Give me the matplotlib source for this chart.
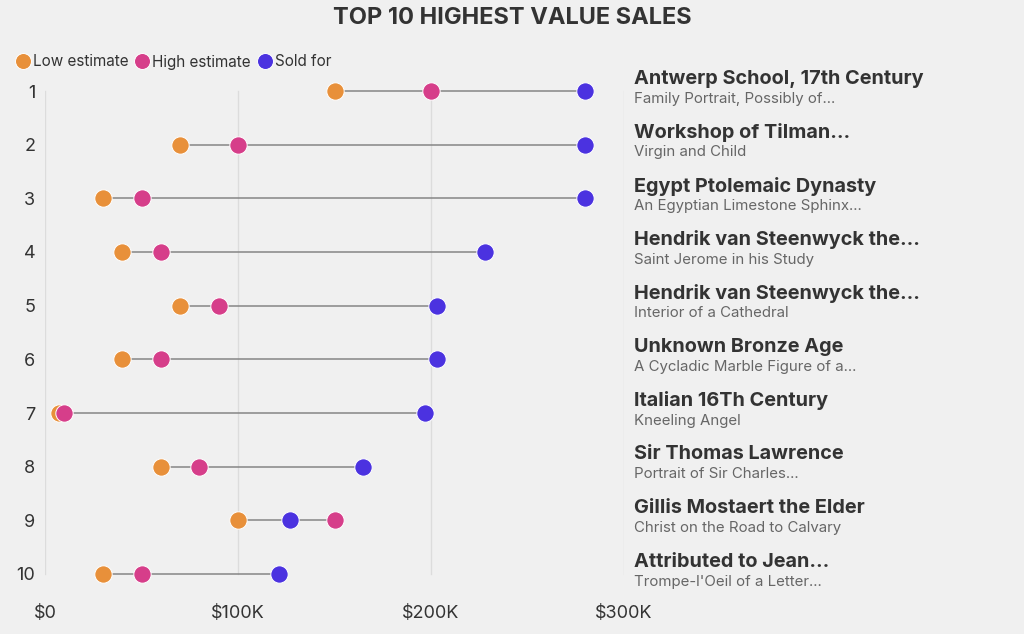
import matplotlib
matplotlib.use("Agg")
import matplotlib.pyplot as plt
from matplotlib.lines import Line2D

ranks = [1, 2, 3, 4, 5, 6, 7, 8, 9, 10]
artists = ["Antwerp School, 17th Century", "Workshop of Tilman\u2026", "Egypt Ptolemaic Dynasty",
           "Hendrik van Steenwyck the\u2026", "Hendrik van Steenwyck the\u2026", "Unknown Bronze Age",
           "Italian 16Th Century", "Sir Thomas Lawrence", "Gillis Mostaert the Elder",
           "Attributed to Jean\u2026"]
works = ["Family Portrait, Possibly of...", "Virgin and Child", "An Egyptian Limestone Sphinx...",
         "Saint Jerome in his Study", "Interior of a Cathedral", "A Cycladic Marble Figure of a...",
         "Kneeling Angel", "Portrait of Sir Charles...", "Christ on the Road to Calvary",
         "Trompe-l'Oeil of a Letter..."]
low_est = [150, 70, 30, 40, 70, 40, 7, 60, 100, 30]       # $K
high_est = [200, 100, 50, 60, 90, 60, 10, 80, 150, 50]    # $K
sold_for = [280, 280, 280, 228, 203, 203, 197, 165, 127, 121]  # $K
xticks = [0, 100, 200, 300]
xtick_labels = ["$0", "$100K", "$200K", "$300K"]

C_LOW = "#E8903A"
C_HIGH = "#D63E8A"
C_SOLD = "#4B32E0"
BG = "#F0F0F0"
TXT = "#333333"

plt.rcParams['font.family'] = ['Inter', 'DejaVu Sans']

fig = plt.figure(figsize=(10.24, 6.34), dpi=100, facecolor=BG)
W, H = 1024, 634
step = (574 - 91) / 9
top_px = 91 - step / 2
bot_px = 574 + step / 2
ax = fig.add_axes([45 / W, 1 - bot_px / H, (624 - 45) / W, (bot_px - top_px) / H])
ax.set_facecolor(BG)
ax.set_xlim(0, 300)
ax.set_ylim(10.5, 0.5)

for xv in xticks:
    ax.plot([xv, xv], [1, 10], color="#DCDCDC", lw=1, zorder=0)

for i, r in enumerate(ranks):
    lo = min(low_est[i], high_est[i], sold_for[i])
    hi = max(low_est[i], high_est[i], sold_for[i])
    ax.plot([lo, hi], [r, r], color="#858585", lw=1.1, zorder=1)

ms = 12.5
ax.plot(low_est, ranks, 'o', ls='none', color=C_LOW, ms=ms, mec='white', mew=0.7, zorder=3)
ax.plot(high_est, ranks, 'o', ls='none', color=C_HIGH, ms=ms, mec='white', mew=0.7, zorder=4)
ax.plot(sold_for, ranks, 'o', ls='none', color=C_SOLD, ms=ms, mec='white', mew=0.7, zorder=5)

ax.set_xticks(xticks)
ax.set_xticklabels(xtick_labels, fontsize=13, color=TXT)
ax.set_yticks(ranks)
ax.set_yticklabels([str(r) for r in ranks], fontsize=13, color=TXT)
ax.tick_params(length=0)
ax.tick_params(axis='x', pad=3)
ax.tick_params(axis='y', pad=7)
for s in ax.spines.values():
    s.set_visible(False)

for i, r in enumerate(ranks):
    ax.annotate(artists[i], xy=(1.0, r), xycoords=('axes fraction', 'data'),
                xytext=(7, 8.8), textcoords='offset points', fontsize=14.3, fontweight='bold',
                color=TXT, va='center', ha='left', annotation_clip=False)
    ax.annotate(works[i], xy=(1.0, r), xycoords=('axes fraction', 'data'),
                xytext=(7, -5.5), textcoords='offset points', fontsize=10.8, color="#666666",
                va='center', ha='left', annotation_clip=False)

fig.text(0.5, 1 - 18 / H, "TOP 10 HIGHEST VALUE SALES", ha='center', va='center',
         fontsize=17, fontweight='bold', color=TXT)

handles = [Line2D([], [], marker='o', ls='none', color=c, ms=11.5, mec='white', mew=0.7)
           for c in (C_LOW, C_HIGH, C_SOLD)]
leg = fig.legend(handles, ["Low estimate", "High estimate", "Sold for"], loc='center left',
                 bbox_to_anchor=(7 / W, 1 - 62 / H), ncol=3, frameon=False, fontsize=11,
                 handletextpad=0.0, columnspacing=0.25, handlelength=1.3, borderaxespad=0)
for t in leg.get_texts():
    t.set_color(TXT)

fig.savefig("out.png", dpi=100, facecolor=BG)
